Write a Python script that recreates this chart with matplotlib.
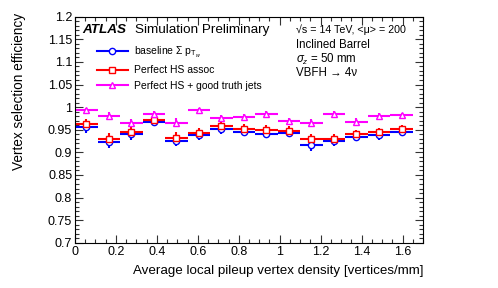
import matplotlib
matplotlib.use("Agg")
import matplotlib.pyplot as plt
from matplotlib.ticker import MultipleLocator
from matplotlib.lines import Line2D

plt.rcParams['font.family'] = ['Liberation Sans', 'DejaVu Sans']
plt.rcParams['mathtext.fontset'] = 'custom'
plt.rcParams['mathtext.rm'] = 'Liberation Sans'
plt.rcParams['mathtext.it'] = 'Liberation Sans:italic'
plt.rcParams['mathtext.bf'] = 'Liberation Sans:bold'

# Data
bin_centers = [0.055, 0.165, 0.275, 0.385, 0.495, 0.605, 0.715, 0.825,
               0.935, 1.045, 1.155, 1.265, 1.375, 1.485, 1.595]
bin_halfwidth = 0.055
baseline = [0.955, 0.924, 0.940, 0.968, 0.926, 0.939, 0.951, 0.946,
            0.941, 0.943, 0.916, 0.926, 0.935, 0.938, 0.946]
baseline_err = [0.012, 0.014, 0.012, 0.010, 0.013, 0.011, 0.010, 0.010,
                0.010, 0.010, 0.012, 0.011, 0.010, 0.010, 0.009]
hs_assoc = [0.962, 0.929, 0.944, 0.971, 0.932, 0.942, 0.958, 0.952,
            0.950, 0.948, 0.929, 0.929, 0.940, 0.944, 0.951]
hs_assoc_err = [0.012, 0.014, 0.012, 0.010, 0.013, 0.011, 0.010, 0.010,
                0.010, 0.010, 0.012, 0.011, 0.010, 0.010, 0.009]
hs_truth = [0.993, 0.981, 0.965, 0.985, 0.966, 0.993, 0.977, 0.979,
            0.985, 0.970, 0.966, 0.985, 0.968, 0.980, 0.983]
hs_truth_err = [0.006, 0.008, 0.009, 0.007, 0.009, 0.005, 0.006, 0.006,
                0.006, 0.007, 0.008, 0.006, 0.007, 0.006, 0.005]

labels = [r"baseline $\Sigma$ p$_{\mathrm{T}_{w}}$", "Perfect HS assoc",
          "Perfect HS + good truth jets"]
colors = ["#0000ff", "#ff0000", "#ff00ff"]
markers = ["o", "s", "^"]

fig = plt.figure(figsize=(4.98, 2.88), dpi=100)
ax = fig.add_axes([0.1506, 0.157, 0.6988, 0.785])

series = [(baseline, baseline_err), (hs_assoc, hs_assoc_err), (hs_truth, hs_truth_err)]
for (vals, errs), c, m in zip(series, colors, markers):
    ax.errorbar(bin_centers, vals, xerr=bin_halfwidth, yerr=errs, fmt=m,
                color=c, mfc='white', mec=c, ms=4.5, mew=1.0, elinewidth=1.5,
                capsize=0, ls='none')

ax.set_xlim(0, 1.7)
ax.set_ylim(0.7, 1.2)
ax.xaxis.set_minor_locator(MultipleLocator(0.05))
ax.yaxis.set_minor_locator(MultipleLocator(0.01))
ax.tick_params(which='both', direction='in', top=True, right=True,
               labelsize=9, color='#333333', pad=2)
ax.tick_params(which='major', length=6, width=0.8)
ax.tick_params(which='minor', length=3, width=0.8)
ax.set_xticks([0, 0.2, 0.4, 0.6, 0.8, 1.0, 1.2, 1.4, 1.6])
ax.set_xticklabels(["0", "0.2", "0.4", "0.6", "0.8", "1", "1.2", "1.4", "1.6"])
ax.set_yticks([0.7, 0.75, 0.8, 0.85, 0.9, 0.95, 1.0, 1.05, 1.1, 1.15, 1.2])
ax.set_yticklabels(["0.7", "0.75", "0.8", "0.85", "0.9", "0.95", "1",
                    "1.05", "1.1", "1.15", "1.2"])
for s in ax.spines.values():
    s.set_linewidth(0.8)

ax.set_xlabel("Average local pileup vertex density [vertices/mm]", fontsize=9.6,
              loc='right', labelpad=5)
ax.set_ylabel("Vertex selection efficiency", fontsize=9.8, loc='top')
ax.yaxis.set_label_coords(-0.14, 1.016)

# ATLAS label
fig.text(0.166, 0.885, "ATLAS", fontsize=9.7, fontweight='bold', style='italic',
         va='baseline')
fig.text(0.272, 0.885, "Simulation Preliminary", fontsize=9.7, va='baseline')

# Legend
handles = [Line2D([0], [0], color=c, marker=m, mfc='white', mec=c, ms=4.5,
                  lw=1.5) for c, m in zip(colors, markers)]
leg = ax.legend(handles, labels, loc='upper left', bbox_to_anchor=(0.05, 0.895),
                frameon=False, fontsize=7.5, handlelength=3.0, handletextpad=0.6,
                labelspacing=0.55, borderaxespad=0)

# Info text
info = ["\u221As = 14 TeV, <\u03bc> = 200", "Inclined Barrel",
        r"$\sigma_{z}$ = 50 mm", "VBFH \u2192 4\u03bd"]
info_sizes = [7.7, 8.3, 8.3, 8.3]
ys = [0.885, 0.835, 0.782, 0.737]
for t, y, fs in zip(info, ys, info_sizes):
    fig.text(0.594, y, t, fontsize=fs, va='baseline')

fig.savefig("out.png", dpi=100)
